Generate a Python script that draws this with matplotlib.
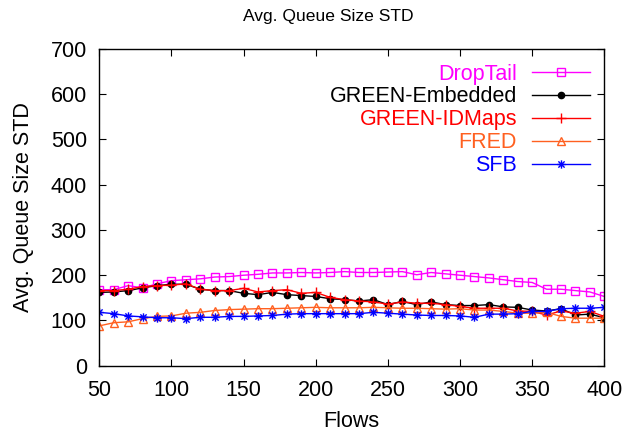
import matplotlib
matplotlib.use("Agg")
import matplotlib.pyplot as plt
from matplotlib.path import Path
import numpy as np

plt.rcParams['font.family'] = ['Liberation Sans', 'DejaVu Sans']

flows = list(range(50, 401, 10))

droptail = [168, 168, 177, 172, 181, 188, 190, 192, 196, 197, 200, 202, 205, 205, 206, 205,
            206, 208, 206, 206, 207, 208, 201, 206, 203, 200, 197, 194, 190, 186, 184, 169,
            169, 166, 163, 153]
green_embedded = [162, 163, 166, 172, 177, 180, 180, 169, 166, 166, 160, 157, 162, 157, 155, 153,
                  148, 146, 143, 146, 135, 142, 135, 141, 135, 133, 133, 135, 130, 129, 123, 121,
                  126, 112, 114, 106]
green_idmaps = [166, 166, 169, 175, 177, 178, 181, 169, 166, 166, 171, 163, 166, 168, 160, 162,
                151, 146, 143, 141, 136, 141, 138, 138, 135, 131, 127, 127, 127, 121, 120, 112,
                121, 116, 120, 109]
fred = [88, 95, 97, 104, 109, 110, 116, 118, 122, 124, 125, 126, 126, 127, 128, 129,
        128, 128, 128, 129, 128, 127, 127, 126, 125, 126, 123, 123, 120, 116, 116, 118,
        109, 105, 105, 105]
sfb = [118, 115, 110, 108, 106, 106, 104, 107, 107, 109, 109, 110, 111, 114, 115, 115,
       115, 115, 115, 118, 116, 114, 112, 111, 111, 110, 107, 114, 114, 115, 120, 120,
       126, 127, 127, 129]

labels = ["DropTail", "GREEN-Embedded", "GREEN-IDMaps", "FRED", "SFB"]
colors = ["#ff00ff", "#000000", "#ff0000", "#ff6020", "#0000ff"]

xticks = [50, 100, 150, 200, 250, 300, 350, 400]
yticks = [0, 100, 200, 300, 400, 500, 600, 700]

# gnuplot-like asterisk: plus + cross
star_verts = [(-1, 0), (1, 0), (0, -1), (0, 1),
              (-0.75, -0.75), (0.75, 0.75), (-0.75, 0.75), (0.75, -0.75)]
star_codes = [Path.MOVETO, Path.LINETO] * 4
star = Path(star_verts, star_codes)

fig = plt.figure(figsize=(6.24, 4.34), dpi=100)
ax = fig.add_axes([99.3 / 624, 68.3 / 434, (604.3 - 99.3) / 624, (365.7 - 49) / 434])

series = [droptail, green_embedded, green_idmaps, fred, sfb]
markers = ['s', 'o', '+', '^', star]
msizes = [5.5, 4.5, 7, 5.5, 6]
for vals, lab, col, mk, ms in zip(series, labels, colors, markers, msizes):
    filled = mk == 'o'
    ax.plot(flows, vals, color=col, lw=1.0, marker=mk, ms=ms,
            mfc=col if filled else 'none', mec=col, mew=1.0, label=lab)

ax.set_xlim(50, 400)
ax.set_ylim(0, 700)
ax.set_xticks(xticks)
ax.set_yticks(yticks)
ax.tick_params(direction='in', length=5, width=0.8, top=True, right=True,
               labelsize=15.5, colors='black')
ax.tick_params(axis='x', pad=10.5)
ax.tick_params(axis='y', pad=9)
for s in ax.spines.values():
    s.set_linewidth(1.0)

ax.set_xlabel("Flows", fontsize=15.5)
ax.xaxis.set_label_coords(0.5, -0.142)
ax.set_ylabel("Avg. Queue Size STD", fontsize=15.5)
ax.yaxis.set_label_coords(-0.13, 0.5)

fig.text(328 / 624, 1 - 16 / 434, "Avg. Queue Size STD", fontsize=12.6,
         ha='center', va='center')

leg = ax.legend(loc='upper right', bbox_to_anchor=(1 - 14 / 505, 1 - 14.5 / 316.7),
                frameon=False, markerfirst=False, fontsize=15.5, handlelength=2.7,
                handletextpad=0.7, labelspacing=0.09, borderpad=0, borderaxespad=0)
for t, c in zip(leg.get_texts(), colors):
    t.set_color(c)

fig.savefig("out.png", dpi=100)
